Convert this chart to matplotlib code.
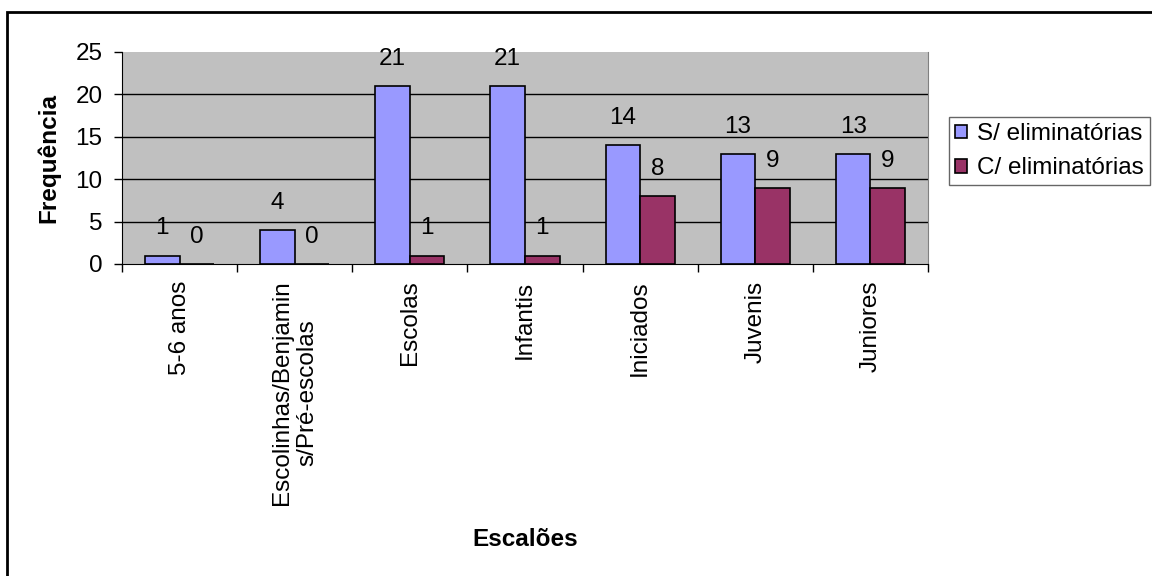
import matplotlib
matplotlib.use("Agg")
import matplotlib.pyplot as plt
from matplotlib.patches import Rectangle
import numpy as np

plt.rcParams['font.family'] = ['Liberation Sans', 'DejaVu Sans']

categorias = ["5-6 anos", "Escolinhas/Benjamin\ns/Pré-escolas", "Escolas", "Infantis",
              "Iniciados", "Juvenis", "Juniores"]
sem_elim = [1, 4, 21, 21, 14, 13, 13]
com_elim = [0, 0, 1, 1, 8, 9, 9]
series_nomes = ["S/ eliminatórias", "C/ eliminatórias"]
yticks = [0, 5, 10, 15, 20, 25]

FS = 17.5
W, H = 1152, 576
fig = plt.figure(figsize=(W / 100, H / 100), dpi=100)
fig.patch.set_facecolor("white")

# outer chart frame
fig.patches.append(Rectangle((7 / W, -0.1), 1.2, 1 - 12 / H + 0.1, transform=fig.transFigure,
                             fill=False, edgecolor="black", linewidth=2, zorder=0))

ax = fig.add_axes([122 / W, 1 - 264 / H, (928 - 122) / W, (264 - 52) / H])
ax.set_facecolor("#C0C0C0")

x = np.arange(len(categorias))
w = 0.3
b1 = ax.bar(x - w / 2, sem_elim, w, color="#9999FF", edgecolor="black", linewidth=1.2,
            label=series_nomes[0], zorder=3)
b2 = ax.bar(x + w / 2, com_elim, w, color="#993366", edgecolor="black", linewidth=1.2,
            label=series_nomes[1], zorder=3)

for bars, vals in ((b1, sem_elim), (b2, com_elim)):
    for rect, v in zip(bars, vals):
        ax.annotate(str(v), (rect.get_x() + rect.get_width() / 2, v),
                    xytext=(0, 19.5), textcoords="offset points",
                    ha="center", va="center", fontsize=FS)

ax.hlines(yticks[1:-1], -0.5, len(categorias) - 0.5, colors="black", linewidth=1, zorder=1)

ax.set_xlim(-0.5, len(categorias) - 0.5)
ax.set_ylim(0, 25)
ax.set_yticks(yticks)
ax.set_xticks(x)
ax.set_xticklabels(categorias, rotation=90, ha="center", va="top", multialignment="center")
ax.set_xticks(np.arange(len(categorias) + 1) - 0.5, minor=True)
ax.tick_params(axis="x", which="major", length=0, pad=12, labelsize=FS)
ax.tick_params(axis="x", which="minor", length=6, width=1, direction="out")
ax.tick_params(axis="y", length=6, width=1, direction="out", labelsize=FS, pad=8)

ax.spines["top"].set_visible(False)
ax.spines["right"].set_color("#808080")
ax.spines["left"].set_color("black")
ax.spines["bottom"].set_color("black")

fig.text(49 / W, 1 - 158 / H, "Frequência", fontsize=FS, fontweight="bold",
         rotation=90, ha="center", va="center")
fig.text(525 / W, 1 - 539 / H, "Escalões", fontsize=FS, fontweight="bold",
         ha="center", va="center")

leg = ax.legend(loc="upper left", bbox_to_anchor=(949 / W, 1 - 117 / H),
                bbox_transform=fig.transFigure, fontsize=FS, frameon=True,
                fancybox=False, edgecolor="#404040", handlelength=0.5, handleheight=0.5,
                handletextpad=0.4, borderpad=0.25, labelspacing=0.5, borderaxespad=0)
leg.get_frame().set_linewidth(1)

fig.savefig("out.png", dpi=100)
